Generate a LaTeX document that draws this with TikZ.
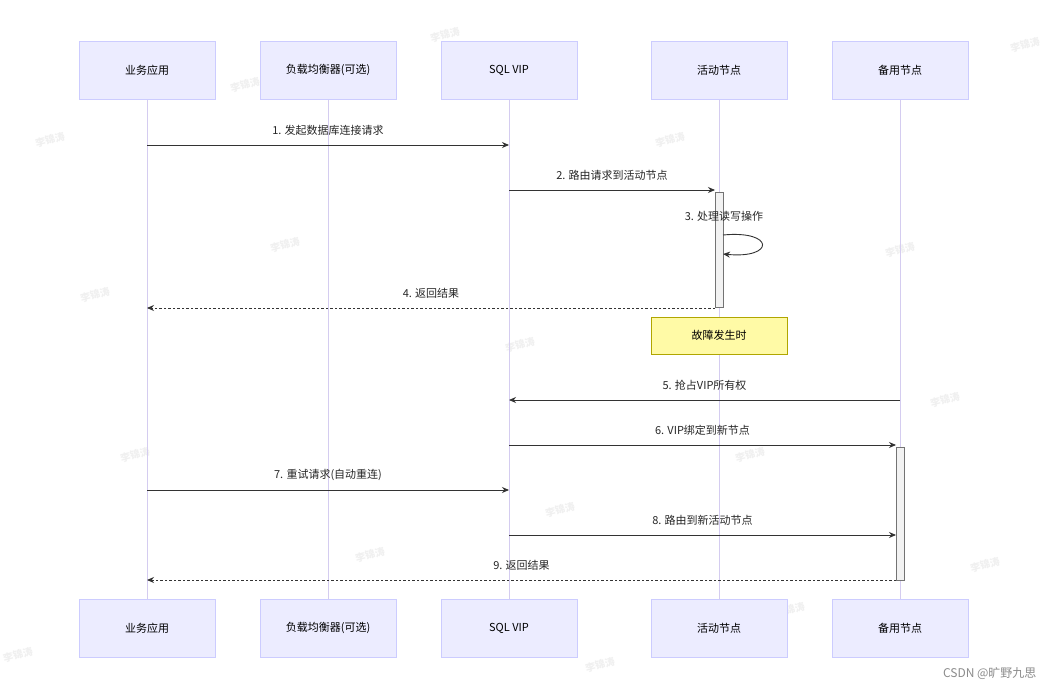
\documentclass[tikz,border=0pt]{standalone}
\usepackage{fontspec}
\setmainfont{Noto Sans CJK SC}
\usetikzlibrary{arrows.meta}
\definecolor{abox}{HTML}{ECECFF}
\definecolor{aline}{HTML}{CCCCFF}
\definecolor{life}{HTML}{D4CCF0}
\begin{document}
\begin{tikzpicture}[x=1pt,y=-1pt,
 actor/.style={draw=aline,fill=abox,minimum width=136pt,minimum height=58pt,font=\fontsize{11}{13}\selectfont,inner sep=0},
 msg/.style={draw=black!80,line width=0.9pt,-{Stealth[length=7pt,width=6pt]}},
 ret/.style={msg,dash pattern=on 2.5pt off 2pt},
 lab/.style={font=\fontsize{11}{13}\selectfont,text=black!85},
 act/.style={draw=black!55,fill=black!5,minimum width=8pt,inner sep=0},
 wm/.style={text=black!6,font=\fontsize{10}{12}\selectfont\bfseries,rotate=15}]
\useasboundingbox (0,0) rectangle (1046,692);
\fill[white] (0,0) rectangle (1046,692);
\foreach \x/\y in {445/35,1025/45,245/85,860/90,50/140,670/140,285/245,900/250,95/295,520/345,945/400,135/455,750/455,560/510,370/555,985/565,175/610,790/610,18/655,600/665}
  \node[wm] at (\x,\y) {李锦涛};
\foreach \n/\x/\t in {a/147/业务应用,b/328/负载均衡器(可选),c/509/SQL VIP,d/719/活动节点,e/900/备用节点}{
  \draw[life,line width=1pt] (\x,99) -- (\x,599);
  \node[actor] (\n1) at (\x,70) {\t};
  \node[actor] (\n2) at (\x,628) {\t};
}
\node[act,minimum height=115pt] (ad) at (719,249.5) {};
\node[act,minimum height=133pt] (ae) at (900,513.5) {};
\node[draw=olive!70!yellow,fill=yellow!35,minimum width=136pt,minimum height=37pt,font=\fontsize{11}{13}\selectfont] (note) at (719,335.5) {故障发生时};
\coordinate (p1a) at (147,145); \coordinate (p1b) at (509,145);
\draw[msg] (p1a) -- (p1b) node[lab,midway,above=6pt] {1. 发起数据库连接请求};
\coordinate (p2a) at (509,190); \coordinate (p2b) at (715,190);
\draw[msg] (p2a) -- (p2b) node[lab,midway,above=6pt] {2. 路由请求到活动节点};
\coordinate (p3a) at (723,235); \coordinate (p3b) at (723,254);
\draw[msg] (p3a) .. controls (775,230) and (775,259) .. (p3b);
\node[lab] at (724,216) {3. 处理读写操作};
\coordinate (p4a) at (715,308); \coordinate (p4b) at (147,308);
\draw[ret] (p4a) -- (p4b) node[lab,midway,above=6pt] {4. 返回结果};
\coordinate (p5a) at (900,400); \coordinate (p5b) at (509,400);
\draw[msg] (p5a) -- (p5b) node[lab,midway,above=6pt] {5. 抢占VIP所有权};
\coordinate (p6a) at (509,445); \coordinate (p6b) at (896,445);
\draw[msg] (p6a) -- (p6b) node[lab,midway,above=6pt] {6. VIP绑定到新节点};
\coordinate (p7a) at (147,490); \coordinate (p7b) at (509,490);
\draw[msg] (p7a) -- (p7b) node[lab,midway,above=6pt] {7. 重试请求(自动重连)};
\coordinate (p8a) at (509,535); \coordinate (p8b) at (896,535);
\draw[msg] (p8a) -- (p8b) node[lab,midway,above=6pt] {8. 路由到新活动节点};
\coordinate (p9a) at (896,580); \coordinate (p9b) at (147,580);
\draw[ret] (p9a) -- (p9b) node[lab,midway,above=6pt] {9. 返回结果};
\node[text=black!45,font=\fontsize{12}{14}\selectfont,anchor=east] at (1040,674) {CSDN @旷野九思};
\end{tikzpicture}
\end{document}
